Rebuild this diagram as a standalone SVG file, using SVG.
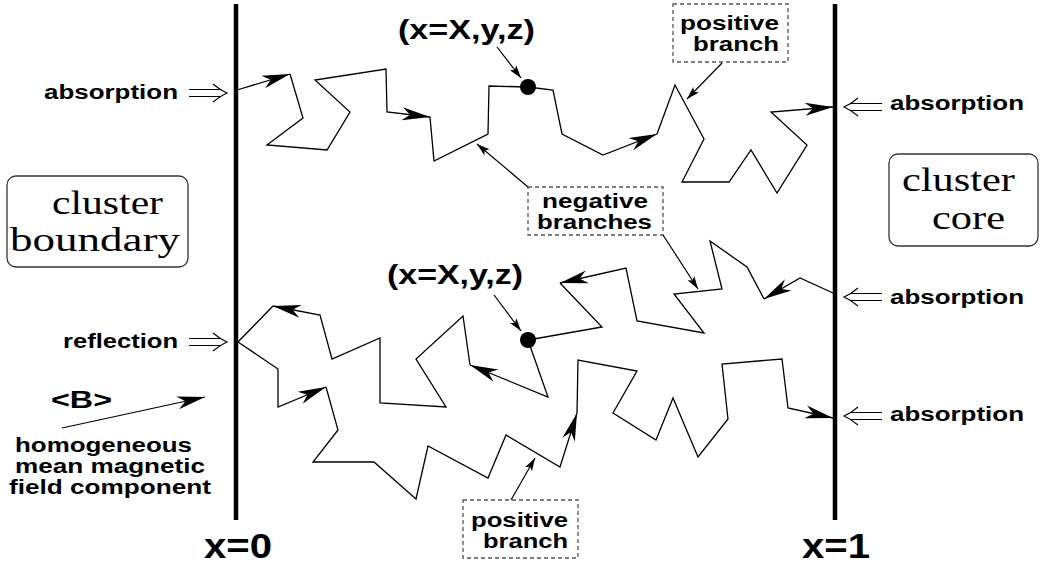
<svg xmlns="http://www.w3.org/2000/svg" width="1040" height="567" viewBox="0 0 1040 567">
<style>
.walk{fill:none;stroke:#000;stroke-width:1.3;stroke-linejoin:miter}
.arw{marker-end:url(#big)}
.ptr{fill:none;stroke:#000;stroke-width:1.2;marker-end:url(#small)}
.ptrb{fill:none;stroke:#000;stroke-width:1.2;marker-end:url(#big)}
.wall{stroke:#000;stroke-width:4.5}
.sans{font-family:"Liberation Sans",Arial,Helvetica,sans-serif;font-weight:bold;fill:#000}
.s20{font-size:20px}
.s26{font-size:28px}
.s32{font-size:35px}
.serif{font-family:"Liberation Serif","Times New Roman",serif;font-size:34px;fill:#000}
.dash{fill:none;stroke:#555;stroke-width:1.3;stroke-dasharray:4 3}
.rbox{fill:none;stroke:#333;stroke-width:1.3}
.dbl{fill:none;stroke:#000;stroke-width:1.1}
.dot{fill:#000}
</style>
<defs>
<marker id="big" markerUnits="userSpaceOnUse" viewBox="-30 -8 31 16" refX="0" refY="0" markerWidth="31" markerHeight="16" orient="auto" overflow="visible"><path d="M0,0 L-28,-6.5 L-20,0 L-28,6.5 Z" fill="#000"/></marker>
<marker id="small" markerUnits="userSpaceOnUse" viewBox="-15 -5 16 10" refX="0" refY="0" markerWidth="16" markerHeight="10" orient="auto" overflow="visible"><path d="M0,0 L-13,-4 L-10,0 L-13,4 Z" fill="#000"/></marker>
<g id="dblarrow"><path class="dbl" d="M-38,-3.5H-6M-38,3.5H-6M-14,-9Q-7,-3 0,0Q-7,3 -14,9"/></g>
</defs>
<rect width="1040" height="567" fill="#fff"/>

<g id="wall-x0"><line class="wall" x1="236" y1="4" x2="236" y2="520"/><text class="sans s32" x="204" y="558" textLength="68" lengthAdjust="spacingAndGlyphs">x=0</text></g>
<g id="wall-x1"><line class="wall" x1="835" y1="4" x2="835" y2="520"/><text class="sans s32" x="802" y="558" textLength="68" lengthAdjust="spacingAndGlyphs">x=1</text></g>

<g id="cluster-boundary"><rect class="rbox" x="7" y="176" width="181" height="91" rx="9"/><text class="serif" x="52" y="214" textLength="111" lengthAdjust="spacingAndGlyphs">cluster</text><text class="serif" x="10" y="251" textLength="170" lengthAdjust="spacingAndGlyphs">boundary</text></g>
<g id="cluster-core"><rect class="rbox" x="889" y="154" width="149" height="92" rx="9"/><text class="serif" x="902" y="191" textLength="113" lengthAdjust="spacingAndGlyphs">cluster</text><text class="serif" x="932" y="229" textLength="73" lengthAdjust="spacingAndGlyphs">core</text></g>

<g id="label-absorption-left"><text class="sans s20" x="44" y="99" textLength="134" lengthAdjust="spacingAndGlyphs">absorption</text><use href="#dblarrow" transform="translate(227,93)"/></g>
<g id="label-reflection"><text class="sans s20" x="63" y="348" textLength="115" lengthAdjust="spacingAndGlyphs">reflection</text><use href="#dblarrow" transform="translate(227,342)"/></g>
<g id="label-absorption-r1"><use href="#dblarrow" transform="translate(844,107) scale(-1,1)"/><text class="sans s20" x="890" y="110" textLength="134" lengthAdjust="spacingAndGlyphs">absorption</text></g>
<g id="label-absorption-r2"><use href="#dblarrow" transform="translate(844,297) scale(-1,1)"/><text class="sans s20" x="890" y="304" textLength="134" lengthAdjust="spacingAndGlyphs">absorption</text></g>
<g id="label-absorption-r3"><use href="#dblarrow" transform="translate(844,416) scale(-1,1)"/><text class="sans s20" x="890" y="421" textLength="134" lengthAdjust="spacingAndGlyphs">absorption</text></g>

<g id="label-B"><text class="sans" style="font-size:23px" x="51" y="408" textLength="61" lengthAdjust="spacingAndGlyphs">&lt;B&gt;</text>
<text class="sans s20" x="15" y="452" textLength="177" lengthAdjust="spacingAndGlyphs">homogeneous</text>
<text class="sans s20" x="15" y="473" textLength="190" lengthAdjust="spacingAndGlyphs">mean magnetic</text>
<text class="sans s20" x="9" y="494" textLength="202" lengthAdjust="spacingAndGlyphs">field component</text></g>

<g id="point-top"><circle class="dot" cx="528" cy="87" r="8"/><text class="sans s26" x="398" y="39" textLength="137" lengthAdjust="spacingAndGlyphs">(x=X,y,z)</text></g>
<g id="point-mid"><circle class="dot" cx="528" cy="340" r="8"/><text class="sans s26" x="387" y="284" textLength="136" lengthAdjust="spacingAndGlyphs">(x=X,y,z)</text></g>

<g id="box-positive-top"><rect class="dash" x="673" y="4" width="115" height="58"/><text class="sans s20" x="680" y="30" textLength="99" lengthAdjust="spacingAndGlyphs">positive</text><text class="sans s20" x="693" y="51" textLength="86" lengthAdjust="spacingAndGlyphs">branch</text></g>
<g id="box-negative"><rect class="dash" x="528" y="187" width="135" height="48"/><text class="sans s20" x="542" y="208" textLength="106" lengthAdjust="spacingAndGlyphs">negative</text><text class="sans s20" x="537" y="229" textLength="115" lengthAdjust="spacingAndGlyphs">branches</text></g>
<g id="box-positive-bottom"><rect class="dash" x="463" y="500" width="115" height="58"/><text class="sans s20" x="471" y="527" textLength="97" lengthAdjust="spacingAndGlyphs">positive</text><text class="sans s20" x="483" y="548" textLength="85" lengthAdjust="spacingAndGlyphs">branch</text></g>

<g id="connectors">
<polyline class="walk arw" points="237,90 290,74"/>
<polyline class="walk arw" points="290,74 303,118 267,145 327,150 350,112 315,80 386,69 387,112 430,117"/>
<polyline class="walk arw" points="430,117 434,161 488,134 489,86 528,87 553,90 562,134 603,155 657,134"/>
<polyline class="walk arw" points="657,134 675,85 704,139 682,182 729,182 751,150 777,193 807,145 771,112 833,107"/>

<polyline class="walk arw" points="833,293 800,278 764,299"/>
<polyline class="walk arw" points="764,299 747,267 710,241 722,289 674,294 704,333 637,321 626,268 560,283"/>
<polyline class="walk" points="560,283 602,327 528,340"/>
<polyline class="walk arw" points="528,340 548,397 470,365"/>
<polyline class="walk arw" points="470,365 463,316 416,359 446,407 380,403 380,338 332,359 320,315 273,306"/>
<polyline class="walk arw" points="273,306 238,342 278,369 278,407 326,387"/>
<polyline class="walk arw" points="326,387 338,430 313,462 374,462 416,499 428,446 488,478 506,435 560,467 577,413"/>
<polyline class="walk arw" points="577,413 578,360 637,371 613,413 656,440 673,398 698,457 728,419 722,364 782,359 788,408 833,418"/>

<line class="ptr" x1="497" y1="47" x2="521" y2="78"/>
<line class="ptr" x1="494" y1="295" x2="521" y2="331"/>
<line class="ptr" x1="722" y1="63" x2="687" y2="99"/>
<line class="ptr" x1="528" y1="187" x2="477" y2="144"/>
<line class="ptr" x1="663" y1="235" x2="698" y2="289"/>
<line class="ptr" x1="511" y1="500" x2="535" y2="458"/>
<line class="ptrb" x1="62" y1="428" x2="205" y2="397"/>
</g>
</svg>
